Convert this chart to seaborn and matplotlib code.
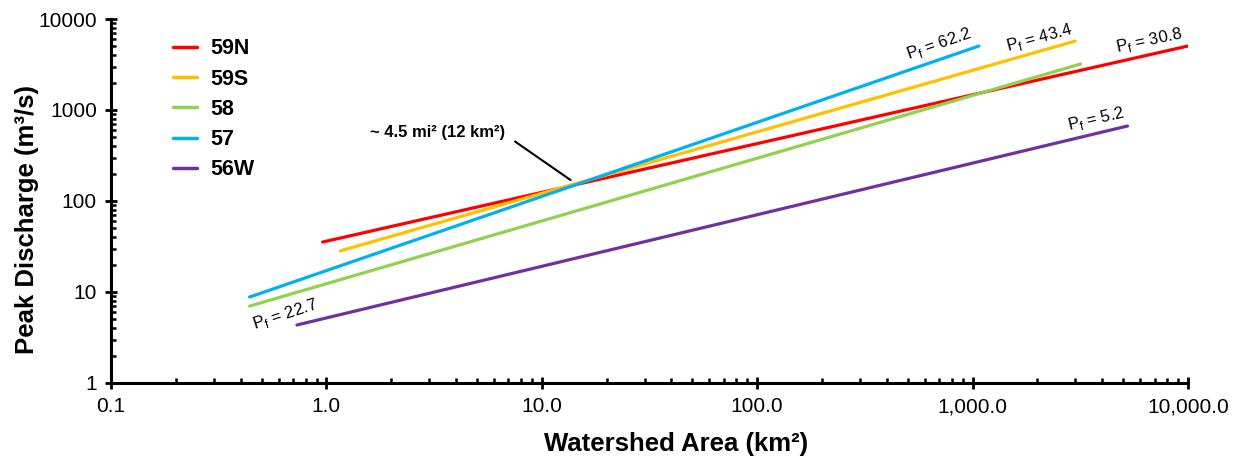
import pandas as pd
import matplotlib.pyplot as plt
import matplotlib.ticker as mticker
import seaborn as sns

# regression lines (end points, log-log straight lines)
basins = ['59N', '59S', '58', '57', '56W']
area_start = [0.96, 1.16, 0.44, 0.44, 0.73]
area_end = [10000, 3000, 3170, 1070, 5240]
q_start = [35.4, 28.3, 7.0, 8.8, 4.34]
q_end = [5050, 5730, 3200, 5050, 667]
colors = ['#FF0000', '#FFC000', '#92D050', '#00B0F0', '#7030A0']

# P_f labels: text, x, y, rotation
pf_text = ['22.7', '62.2', '43.4', '30.8', '5.2']
pf_x = [0.64, 700, 2050, 6620, 3760]
pf_y = [5.6, 5310, 6170, 5730, 796]
pf_rot = [18, 19, 15, 12, 13]

x_ticks = [0.1, 1, 10, 100, 1000, 10000]
x_ticklabels = ['0.1', '1.0', '10.0', '100.0', '1,000.0', '10,000.0']
y_ticks = [1, 10, 100, 1000, 10000]
y_ticklabels = ['1', '10', '100', '1000', '10000']

rows = []
for b, xa, xb, ya, yb in zip(basins, area_start, area_end, q_start, q_end):
    rows.append({'Basin': b, 'Area': xa, 'Q': ya})
    rows.append({'Basin': b, 'Area': xb, 'Q': yb})
df = pd.DataFrame(rows)

sns.set_style('ticks')
plt.rcParams['font.family'] = ['Liberation Sans', 'DejaVu Sans']
plt.rcParams['text.color'] = 'black'
plt.rcParams['axes.labelcolor'] = 'black'
plt.rcParams['xtick.color'] = 'black'
plt.rcParams['ytick.color'] = 'black'

fig, ax = plt.subplots(figsize=(12.39, 4.59), dpi=100)
fig.subplots_adjust(left=0.0896, right=0.9588, bottom=0.1656, top=0.9586)

sns.lineplot(data=df, x='Area', y='Q', hue='Basin', hue_order=basins,
             palette=colors, linewidth=2.3, ax=ax, sort=False,
             estimator=None)

ax.set_xscale('log')
ax.set_yscale('log')
ax.set_xlim(0.1, 10000)
ax.set_ylim(1, 10000)

ax.xaxis.set_major_locator(mticker.FixedLocator(x_ticks))
ax.xaxis.set_major_formatter(mticker.FixedFormatter(x_ticklabels))
ax.yaxis.set_major_locator(mticker.FixedLocator(y_ticks))
ax.yaxis.set_major_formatter(mticker.FixedFormatter(y_ticklabels))
ax.xaxis.set_minor_locator(mticker.LogLocator(base=10, subs=range(2, 10)))
ax.yaxis.set_minor_locator(mticker.LogLocator(base=10, subs=range(2, 10)))
ax.xaxis.set_minor_formatter(mticker.NullFormatter())
ax.yaxis.set_minor_formatter(mticker.NullFormatter())

ax.tick_params(which='major', direction='inout', length=8.5, width=2,
               labelsize=15, color='black', pad=6)
ax.tick_params(which='minor', direction='in', length=3.5, width=1.8,
               color='black')

sns.despine(ax=ax)
for s in ['left', 'bottom']:
    ax.spines[s].set_linewidth(2.2)
    ax.spines[s].set_color('black')

ax.set_xlabel('Watershed Area (km²)', fontsize=18.5, fontweight='bold')
ax.set_ylabel('Peak Discharge (m³/s)', fontsize=18.5, fontweight='bold')
ax.xaxis.set_label_coords(0.525, -0.135)
ax.yaxis.set_label_coords(-0.067, 0.45)

leg = ax.legend(loc='upper left', bbox_to_anchor=(0.04, 1.0), frameon=False,
                handlelength=1.1, handletextpad=0.6, labelspacing=0.43,
                prop={'weight': 'bold', 'size': 15.5})
for line in leg.get_lines():
    line.set_linewidth(2.5)

for t, x, y, r in zip(pf_text, pf_x, pf_y, pf_rot):
    ax.text(x, y, 'P$_\\mathregular{f}$ = ' + t, fontsize=12, rotation=r,
            ha='center', va='center', rotation_mode='anchor')

ax.annotate('~ 4.5 mi² (12 km²)', xy=(13.6, 170), xytext=(1.59, 559),
            fontsize=12, fontweight='bold', ha='left', va='center',
            arrowprops=dict(arrowstyle='-', color='black', lw=1.5,
                            relpos=(1.0, 0.4), shrinkA=6, shrinkB=0))

fig.savefig('out.png', dpi=100)
